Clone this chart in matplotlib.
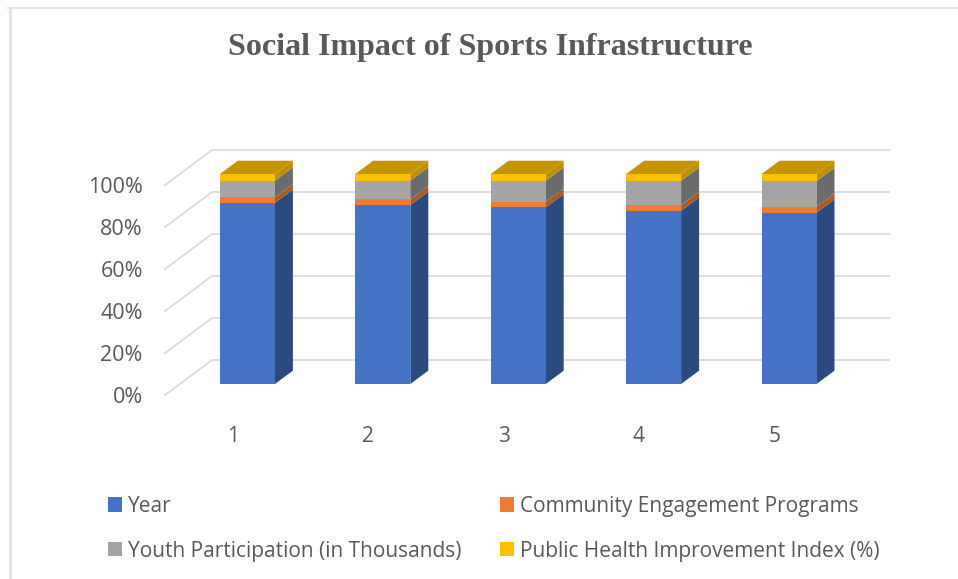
import numpy as np
import matplotlib
matplotlib.use('Agg')
import matplotlib.pyplot as plt
from matplotlib.lines import Line2D
from matplotlib.patches import Patch, Polygon
from matplotlib.ticker import PercentFormatter

# Share of each stack, in percent
categories = [1, 2, 3, 4, 5]
year = [86.3, 85.2, 84.1, 82.5, 81.6]
community = [2.6, 2.7, 2.7, 2.7, 2.8]
youth = [7.9, 8.9, 10.0, 11.6, 12.2]
health = [3.2, 3.2, 3.2, 3.2, 3.4]
series_names = ['Year', 'Community Engagement Programs',
                'Youth Participation (in Thousands)', 'Public Health Improvement Index (%)']
yticks = [0, 20, 40, 60, 80, 100]

front_colors = ['#4472c4', '#ed7d31', '#a5a5a5', '#ffc000']
side_colors = ['#2a4a80', '#ad5a22', '#6b6b6b', '#bf9000']
top_color = '#c49500'
grid_color = '#dcdcdc'
text_color = '#595959'

W, H = 958, 579
# front floor edge runs 165..842 px, 100% sits 210 px above it
X0, X1, Y0, Y1 = 165, 842, 395, 185
PX_X = 5 / (X1 - X0)     # category units per pixel
PX_Y = 100 / (Y0 - Y1)   # percent per pixel

wall_dx, wall_dy = 47 * PX_X, 35 * PX_Y
gap_dx, gap_dy = 14.7 * PX_X, 11 * PX_Y
depth_dx, depth_dy = 18 * PX_X, 13.3 * PX_Y
bar_w = 55 * PX_X

plt.rcParams['font.family'] = ['Open Sans', 'DejaVu Sans']

fig = plt.figure(figsize=(W / 100, H / 100), dpi=100)
ax = fig.add_axes([X0 / W, 1 - Y0 / H, (X1 - X0) / W, (Y0 - Y1) / H])
ax.set_xlim(0.5, 5.5)
ax.set_ylim(0, 100)
for s in ax.spines.values():
    s.set_visible(False)
ax.patch.set_visible(False)

# back wall and left wall gridlines
for v in yticks:
    ax.plot([0.5, 0.5 + wall_dx, 5.5 + wall_dx], [v, v + wall_dy, v + wall_dy],
            color=grid_color, lw=1.3, clip_on=False, zorder=1, solid_joinstyle='miter')


def draw_bar(x, vals):
    left = x - bar_w / 2 + gap_dx
    right = left + bar_w
    bottom = 0
    for i, v in enumerate(vals):
        y0 = bottom + gap_dy
        y1 = y0 + v
        side = [(right, y0), (right + depth_dx, y0 + depth_dy),
                (right + depth_dx, y1 + depth_dy), (right, y1)]
        front = [(left, y0), (right, y0), (right, y1), (left, y1)]
        ax.add_patch(Polygon(side, fc=side_colors[i], ec='none', clip_on=False, zorder=3))
        ax.add_patch(Polygon(front, fc=front_colors[i], ec='none', clip_on=False, zorder=3))
        bottom += v
    y1 = bottom + gap_dy
    top = [(left, y1), (right, y1), (right + depth_dx, y1 + depth_dy), (left + depth_dx, y1 + depth_dy)]
    ax.add_patch(Polygon(top, fc=top_color, ec='none', clip_on=False, zorder=3))


stacks = np.array([year, community, youth, health]).T
for c, vals in zip(categories, stacks):
    draw_bar(c, vals)

ax.set_xticks(categories)
ax.set_yticks(yticks)
ax.yaxis.set_major_formatter(PercentFormatter(100, decimals=0))
ax.tick_params(axis='x', length=0, pad=22, labelsize=15, labelcolor=text_color)
ax.tick_params(axis='y', length=0, pad=16, labelsize=15.5, labelcolor=text_color)

fig.text(490 / W, 1 - 47 / H, 'Social Impact of Sports Infrastructure', ha='center', va='center',
         family='Liberation Serif', weight='bold', fontsize=23, color=text_color)

# legend, two columns
handles = [Patch(fc=c, ec='none') for c in front_colors]
order = [0, 2, 1, 3]
fig.legend([handles[i] for i in order], [series_names[i] for i in order], ncols=2,
           loc='upper left', bbox_to_anchor=(89 / W, 1 - 477 / H), frameon=False,
           fontsize=15, labelcolor=text_color, handlelength=0.67, handleheight=0.67,
           handletextpad=0.29, columnspacing=1.87, labelspacing=1.15, borderpad=0.4)

# thin frame along the top and left edges
fig.add_artist(Line2D([9.5 / W, 9.5 / W], [0, 1 - 7.5 / H], color='#e2e2e2', lw=2.2))
fig.add_artist(Line2D([8 / W, 1], [1 - 7.5 / H, 1 - 7.5 / H], color='#e2e2e2', lw=1.2))

fig.savefig('out.png', dpi=100)
